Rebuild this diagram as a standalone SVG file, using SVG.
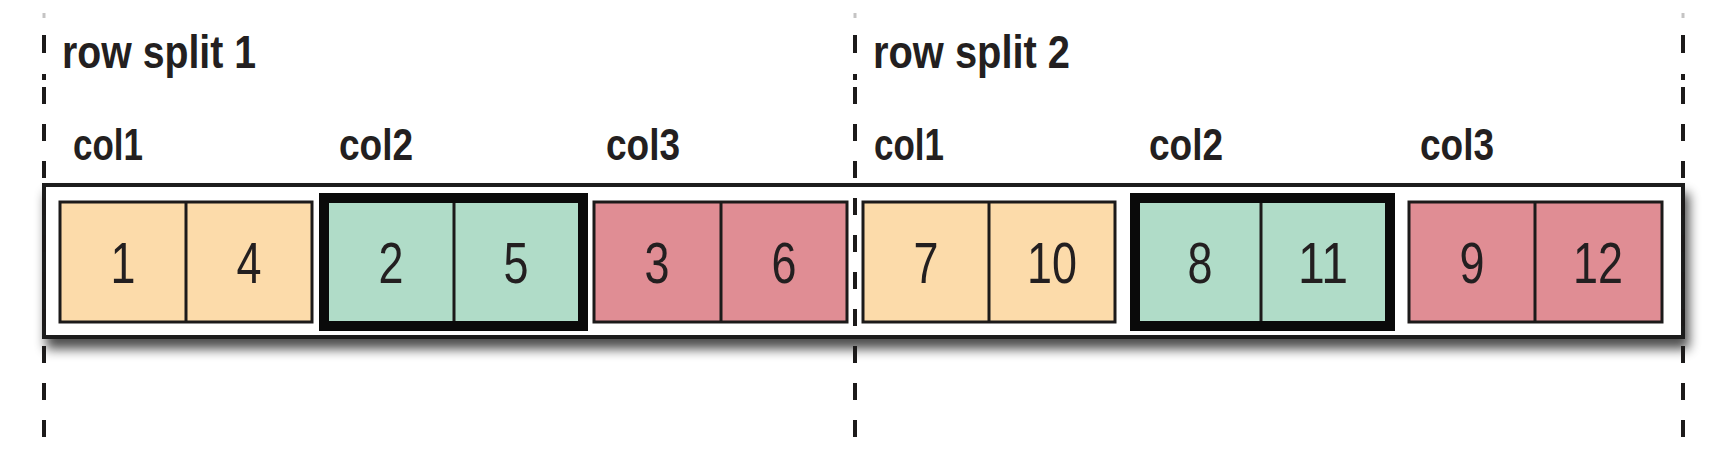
<svg xmlns="http://www.w3.org/2000/svg" xmlns:xlink="http://www.w3.org/1999/xlink" width="1722" height="460" viewBox="0 0 1722 460">
  <style>
    .label { font-family: "Liberation Sans", Arial, sans-serif; font-weight: bold; fill: #231f20; }
    .split { font-size: 46px; }
    .col { font-size: 44px; }
    .num { font-family: "Liberation Sans", Arial, sans-serif; font-size: 57px; fill: #231f20; text-anchor: middle; }
    .cell { stroke: #1c1a1a; stroke-width: 3; }
    .div { stroke: #1c1a1a; stroke-width: 3; }
    .orange { fill: #FCDBAA; }
    .green { fill: #B0DCC8; }
    .red { fill: #E08D94; }
    .thick { fill: none; stroke: #0a0a0a; stroke-width: 10; }
    .outer { fill: #ffffff; stroke: #1c1a1a; stroke-width: 4; }
    .dash { stroke: #1c1a1a; stroke-width: 4; fill: none; }
  </style>
  <defs>
    <filter id="shadow" x="-5%" y="-20%" width="110%" height="160%">
      <feGaussianBlur in="SourceAlpha" stdDeviation="6"/>
      <feOffset dx="4" dy="10" result="b"/>
      <feComponentTransfer><feFuncA type="linear" slope="0.7"/></feComponentTransfer>
      <feMerge><feMergeNode/><feMergeNode in="SourceGraphic"/></feMerge>
    </filter>
    <g id="splitline">
      <path d="M0 13 V18" stroke="#1c1a1a" stroke-width="3" opacity="0.25"/>
      <path class="dash" d="M0 35 V53 M0 74 V80"/>
      <path class="dash" d="M0 87 V440" stroke-dasharray="17 20"/>
    </g>
  </defs>

  <rect id="row-box" class="outer" x="44" y="185" width="1639" height="152" filter="url(#shadow)"/>

  <g id="split1-label"><text class="label split" x="62" y="68" textLength="194" lengthAdjust="spacingAndGlyphs">row split 1</text></g>
  <g id="split2-label"><text class="label split" x="873" y="68" textLength="197" lengthAdjust="spacingAndGlyphs">row split 2</text></g>

  <g id="col-labels-1">
    <text class="label col" x="73" y="160" textLength="70" lengthAdjust="spacingAndGlyphs">col1</text>
    <text class="label col" x="339" y="160" textLength="74" lengthAdjust="spacingAndGlyphs">col2</text>
    <text class="label col" x="606" y="160" textLength="74" lengthAdjust="spacingAndGlyphs">col3</text>
  </g>
  <g id="col-labels-2">
    <text class="label col" x="874" y="160" textLength="70" lengthAdjust="spacingAndGlyphs">col1</text>
    <text class="label col" x="1149" y="160" textLength="74" lengthAdjust="spacingAndGlyphs">col2</text>
    <text class="label col" x="1420" y="160" textLength="74" lengthAdjust="spacingAndGlyphs">col3</text>
  </g>

  <g id="s1-col1">
    <rect class="cell orange" x="60" y="202" width="252" height="120"/>
    <line class="div" x1="186" y1="202" x2="186" y2="322"/>
    <text class="num" x="123" y="283" textLength="25" lengthAdjust="spacingAndGlyphs">1</text>
    <text class="num" x="249" y="283" textLength="25" lengthAdjust="spacingAndGlyphs">4</text>
  </g>
  <g id="s1-col2">
    <rect class="green" x="324" y="198" width="259" height="128"/>
    <line class="div" x1="454" y1="198" x2="454" y2="326"/>
    <rect class="thick" x="324" y="198" width="259" height="128"/>
    <text class="num" x="391" y="283" textLength="25" lengthAdjust="spacingAndGlyphs">2</text>
    <text class="num" x="516" y="283" textLength="25" lengthAdjust="spacingAndGlyphs">5</text>
  </g>
  <g id="s1-col3">
    <rect class="cell red" x="594" y="202" width="253" height="120"/>
    <line class="div" x1="721" y1="202" x2="721" y2="322"/>
    <text class="num" x="657" y="283" textLength="25" lengthAdjust="spacingAndGlyphs">3</text>
    <text class="num" x="784" y="283" textLength="25" lengthAdjust="spacingAndGlyphs">6</text>
  </g>
  <g id="s2-col1">
    <rect class="cell orange" x="863" y="202" width="252" height="120"/>
    <line class="div" x1="989" y1="202" x2="989" y2="322"/>
    <text class="num" x="926" y="283" textLength="25" lengthAdjust="spacingAndGlyphs">7</text>
    <text class="num" x="1052" y="283" textLength="50" lengthAdjust="spacingAndGlyphs">10</text>
  </g>
  <g id="s2-col2">
    <rect class="green" x="1135" y="198" width="255" height="128"/>
    <line class="div" x1="1261" y1="198" x2="1261" y2="326"/>
    <rect class="thick" x="1135" y="198" width="255" height="128"/>
    <text class="num" x="1200" y="283" textLength="25" lengthAdjust="spacingAndGlyphs">8</text>
    <text class="num" x="1323" y="283" textLength="50" lengthAdjust="spacingAndGlyphs">11</text>
  </g>
  <g id="s2-col3">
    <rect class="cell red" x="1409" y="202" width="253" height="120"/>
    <line class="div" x1="1535" y1="202" x2="1535" y2="322"/>
    <text class="num" x="1472" y="283" textLength="25" lengthAdjust="spacingAndGlyphs">9</text>
    <text class="num" x="1598" y="283" textLength="50" lengthAdjust="spacingAndGlyphs">12</text>
  </g>

  <g id="connectors">
    <use xlink:href="#splitline" x="44"/>
    <use xlink:href="#splitline" x="855"/>
    <use xlink:href="#splitline" x="1683"/>
  </g>
</svg>
